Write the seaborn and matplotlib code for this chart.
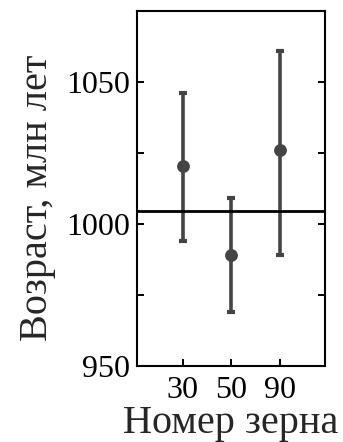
import numpy as np
import pandas as pd
import matplotlib
matplotlib.use("Agg")
import matplotlib.pyplot as plt
import seaborn as sns

# --- DATA ---
grain_labels = ["30", "50", "90"]
age_values = [1020.5, 989.0, 1026.0]
age_upper = [1046.0, 1009.0, 1061.0]
age_lower = [994.0, 969.0, 989.0]
reference_age = 1004.5

sns.set_theme(style="ticks")
plt.rcParams['font.family'] = ['Liberation Serif', 'DejaVu Serif']

df = pd.DataFrame({"grain": grain_labels, "age": age_values,
                   "hi": age_upper, "lo": age_lower})
df["pos"] = np.arange(1, len(df) + 1)

fig = plt.figure(figsize=(3.43, 4.42), dpi=100)
ax = fig.add_axes([0.399, 0.172, 0.549, 0.803])

col = "#444444"
yerr = np.vstack([df["age"] - df["lo"], df["hi"] - df["age"]])
ax.errorbar(df["pos"], df["age"], yerr=yerr, fmt="none", ecolor=col,
            elinewidth=2.6, capsize=3.2, capthick=3.0, zorder=2)
sns.scatterplot(data=df, x="pos", y="age", ax=ax, color=col, s=85,
                edgecolor=col, linewidth=0, zorder=3)
ax.axhline(reference_age, color="black", lw=2.0, zorder=4)

ax.set_xlim(0.06, 3.93)
ax.set_ylim(950, 1075)
ax.set_xticks(df["pos"])
ax.set_xticklabels(df["grain"])
ax.set_yticks([950, 975, 1000, 1025, 1050])
ax.set_yticklabels(["950", "", "1000", "", "1050"])

ax.tick_params(axis="y", direction="in", left=True, right=True,
               length=5, width=1.4, labelsize=23, pad=5, colors="black")
ax.tick_params(axis="x", direction="in", bottom=True, top=False,
               length=5, width=1.4, labelsize=23, pad=7, colors="black")
for sp in ax.spines.values():
    sp.set_visible(True)
    sp.set_linewidth(1.5)
    sp.set_color("black")

ax.set_xlabel("Номер зерна", fontsize=29, labelpad=0)
ax.set_ylabel("Возраст, млн лет", fontsize=29, labelpad=7, y=0.475)

fig.savefig("out.png", dpi=100)
